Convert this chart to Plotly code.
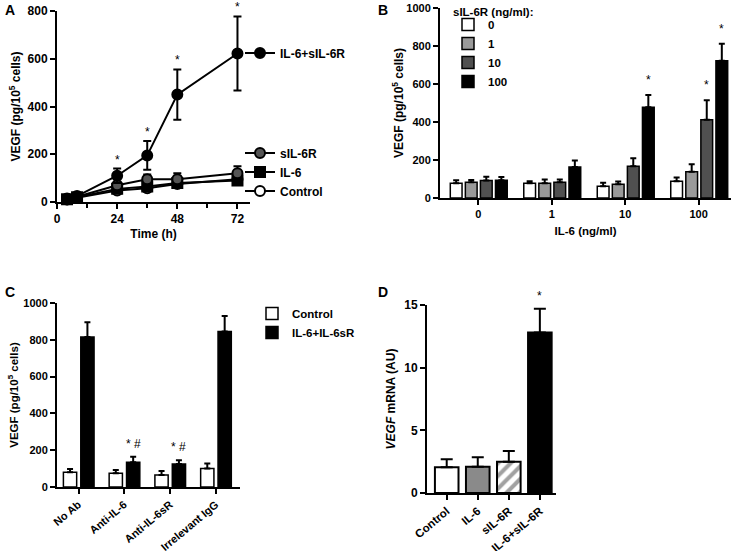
import plotly.graph_objects as go

FONT = "Liberation Sans, Arial, sans-serif"

# ---------- Panel A data ----------
time_h = [4, 8, 24, 36, 48, 72]
a_combo = [15, 25, 110, 195, 450, 622]
a_combo_err = [8, 8, 30, 60, 105, 155]
a_sil6r = [12, 22, 70, 95, 95, 120]
a_sil6r_err = [5, 6, 15, 20, 25, 30]
a_il6 = [12, 20, 55, 65, 80, 90]
a_il6_err = [5, 5, 10, 12, 12, 15]
a_ctrl = [10, 18, 48, 58, 75, 95]
a_ctrl_err = [4, 5, 8, 10, 10, 15]
a_sig_times = [24, 36, 48, 72]

# ---------- Panel B data ----------
b_il6_cats = ["0", "1", "10", "100"]
b_series_names = ["0", "1", "10", "100"]
b_vals = [
    [78, 78, 62, 88],
    [83, 78, 72, 138],
    [92, 83, 167, 412],
    [93, 163, 477, 722],
]
b_errs = [
    [15, 10, 18, 20],
    [12, 20, 15, 40],
    [20, 15, 42, 102],
    [18, 35, 65, 90],
]
b_colors = ["#ffffff", "#9a9a9a", "#505050", "#000000"]
b_sig = [(2, 3), (3, 2), (3, 3)]  # (group, series)

# ---------- Panel C data ----------
c_cats = ["No Ab", "Anti-IL-6", "Anti-IL-6sR", "Irrelevant IgG"]
c_ctrl = [80, 75, 65, 100]
c_ctrl_err = [18, 18, 22, 28]
c_combo = [815, 135, 125, 845]
c_combo_err = [80, 30, 20, 85]
c_sig = [1, 2]

# ---------- Panel D data ----------
d_cats = ["Control", "IL-6", "sIL-6R", "IL-6+sIL-6R"]
d_vals = [2.05, 2.1, 2.5, 12.8]
d_errs = [0.65, 0.75, 0.85, 1.9]
d_colors = ["#ffffff", "#8a8a8a", "#ffffff", "#000000"]
d_patterns = ["", "", "/", ""]

fig = go.Figure()

# ---------- Panel A traces ----------
def line_trace(y, err, name, symbol, fill, legend):
    return go.Scatter(
        x=time_h, y=y, name=name, mode="lines+markers",
        line=dict(color="black", width=2),
        marker=dict(symbol=symbol, size=10, color=fill, line=dict(color="black", width=2)),
        error_y=dict(type="data", array=err, color="black", thickness=2, width=4),
        xaxis="x", yaxis="y", legend=legend, cliponaxis=False,
    )

fig.add_trace(line_trace(a_ctrl, a_ctrl_err, "Control", "circle", "white", "legend2"))
fig.add_trace(line_trace(a_il6, a_il6_err, "IL-6", "square", "black", "legend2"))
fig.add_trace(line_trace(a_sil6r, a_sil6r_err, "sIL-6R", "circle", "#555555", "legend2"))
fig.add_trace(line_trace(a_combo, a_combo_err, "IL-6+sIL-6R", "circle", "black", "legend"))

annotations = []
for t in a_sig_times:
    i = time_h.index(t)
    annotations.append(dict(x=t, y=a_combo[i] + a_combo_err[i], xref="x", yref="y",
                            text="*", showarrow=False, yanchor="bottom", yshift=0,
                            font=dict(size=12, family=FONT)))

# ---------- Panel B traces ----------
b_width = 0.16
b_offsets = [-0.38, -0.175, 0.03, 0.235]
for s in range(4):
    fig.add_trace(go.Bar(
        x=b_il6_cats, y=b_vals[s], name=b_series_names[s],
        marker=dict(color=b_colors[s], line=dict(color="black", width=1.5)),
        width=b_width, offset=b_offsets[s],
        error_y=dict(type="data", array=b_errs[s], arrayminus=[0] * 4, symmetric=False,
                     color="black", thickness=2, width=3),
        xaxis="x2", yaxis="y2", legend="legend3",
    ))
for g, s in b_sig:
    annotations.append(dict(x=g + b_offsets[s] + b_width / 2, y=b_vals[s][g] + b_errs[s][g],
                            xref="x2", yref="y2", text="*", showarrow=False,
                            yanchor="bottom", yshift=6, font=dict(size=12, family=FONT)))

# ---------- Panel C traces ----------
c_width = 0.29
c_offsets = [-0.33, 0.05]
fig.add_trace(go.Bar(
    x=c_cats, y=c_ctrl, name="Control",
    marker=dict(color="white", line=dict(color="black", width=1.5)),
    width=c_width, offset=c_offsets[0],
    error_y=dict(type="data", array=c_ctrl_err, arrayminus=[0] * 4, symmetric=False,
                 color="black", thickness=2, width=3),
    xaxis="x3", yaxis="y3", legend="legend4",
))
fig.add_trace(go.Bar(
    x=c_cats, y=c_combo, name="IL-6+IL-6sR",
    marker=dict(color="black", line=dict(color="black", width=1.5)),
    width=c_width, offset=c_offsets[1],
    error_y=dict(type="data", array=c_combo_err, arrayminus=[0] * 4, symmetric=False,
                 color="black", thickness=2, width=3),
    xaxis="x3", yaxis="y3", legend="legend4",
))
for g in c_sig:
    annotations.append(dict(x=g + c_offsets[1] + c_width / 2, y=c_combo[g] + c_combo_err[g],
                            xref="x3", yref="y3", text="* #", showarrow=False,
                            yanchor="bottom", yshift=4, font=dict(size=12, family=FONT)))

# ---------- Panel D traces ----------
fig.add_trace(go.Bar(
    x=d_cats, y=d_vals, showlegend=False,
    marker=dict(color=d_colors, line=dict(color="black", width=2),
                pattern=dict(shape=d_patterns, fgcolor="black", bgcolor="white", size=9, solidity=0.45)),
    width=0.76,
    error_y=dict(type="data", array=d_errs, arrayminus=[0] * 4, symmetric=False,
                 color="black", thickness=2, width=6),
    xaxis="x4", yaxis="y4",
))
annotations.append(dict(x=3, y=d_vals[3] + d_errs[3], xref="x4", yref="y4", text="*",
                        showarrow=False, yanchor="bottom", yshift=4, font=dict(size=12, family=FONT)))

# ---------- Panel labels ----------
for lab, px, py in [("A", 10, 10), ("B", 383, 10), ("C", 10, 292), ("D", 383, 292)]:
    annotations.append(dict(x=px / 732, y=1 - py / 551, xref="paper", yref="paper", text=lab,
                            showarrow=False, xanchor="center", yanchor="middle",
                            font=dict(size=14, family=FONT, weight="bold")))


def bfont(size):
    return dict(size=size, family=FONT, color="black", weight="bold")


# Legend title for panel B
annotations.append(dict(x=451 / 732, y=1 - 12 / 551, xref="paper", yref="paper",
                        text="sIL-6R (ng/ml):", showarrow=False, xanchor="left", yanchor="middle",
                        font=bfont(11.5)))

axis_common = dict(showline=True, linecolor="black", linewidth=2, ticks="outside",
                   ticklen=5, tickwidth=2, tickcolor="black", showgrid=False, zeroline=False,
                   automargin=False)

ytitle = "VEGF (pg/10<sup>5</sup> cells)"

fig.update_layout(
    width=732, height=551, margin=dict(l=0, r=0, t=0, b=0),
    plot_bgcolor="white", paper_bgcolor="white",
    font=dict(family=FONT, color="black"),
    barmode="overlay",
    xaxis=dict(domain=[57 / 732, 250 / 732], range=[0, 77], tickvals=[0, 24, 48, 72],
               minor=dict(tickvals=[12, 36, 60], ticks="outside", ticklen=4, tickwidth=2, tickcolor="black"),
               tickfont=bfont(12),
               title=dict(text="Time (h)", font=bfont(12), standoff=4), anchor="y", **axis_common),
    yaxis=dict(domain=[1 - 202 / 551, 1 - 11 / 551], range=[0, 800], dtick=200, tickfont=bfont(12),
               title=dict(text=ytitle, font=bfont(12), standoff=4), anchor="x", **axis_common),
    xaxis2=dict(domain=[440 / 732, 731 / 732], range=[-0.52, 3.44], type="category", tickfont=bfont(11),
                title=dict(text="IL-6 (ng/ml)", font=bfont(11.5), standoff=8), anchor="y2", **axis_common),
    yaxis2=dict(domain=[1 - 198 / 551, 1 - 8 / 551], range=[0, 1000], dtick=200, tickfont=bfont(11),
                title=dict(text=ytitle, font=bfont(12), standoff=0), anchor="x2", **axis_common),
    xaxis3=dict(domain=[57 / 732, 240 / 732], range=[-0.47, 3.53], type="category", tickangle=-40,
                tickfont=bfont(11), anchor="y3", **axis_common),
    yaxis3=dict(domain=[1 - 487 / 551, 1 - 303 / 551], range=[0, 1000], dtick=200, tickfont=bfont(11),
                title=dict(text=ytitle, font=bfont(11.5), standoff=2), anchor="x3", **axis_common),
    xaxis4=dict(domain=[427 / 732, 556 / 732], range=[-0.635, 3.52], type="category", tickangle=-40,
                tickfont=bfont(11.5), anchor="y4", **axis_common),
    yaxis4=dict(domain=[1 - 493 / 551, 1 - 305 / 551], range=[0, 15], dtick=5, tickfont=bfont(12),
                title=dict(text="<i>VEGF</i> mRNA (AU)", font=bfont(12), standoff=6), anchor="x4", **axis_common),
    legend=dict(x=240 / 732, y=1 - 53 / 551, xanchor="left", yanchor="middle",
                font=bfont(12), bgcolor="rgba(0,0,0,0)"),
    legend2=dict(x=240 / 732, y=1 - 172 / 551, xanchor="left", yanchor="middle",
                 font=bfont(12), bgcolor="rgba(0,0,0,0)", traceorder="reversed"),
    legend3=dict(x=448 / 732, y=1 - 10 / 551, xanchor="left", yanchor="top",
                 font=bfont(11.5), bgcolor="rgba(0,0,0,0)", traceorder="normal"),
    legend4=dict(x=252 / 732, y=1 - 299 / 551, xanchor="left", yanchor="top",
                 font=bfont(11.5), bgcolor="rgba(0,0,0,0)", traceorder="normal"),
    annotations=annotations,
)

fig.write_html("out.html", config={"displayModeBar": False},
               post_script="document.body.style.margin='0';")
